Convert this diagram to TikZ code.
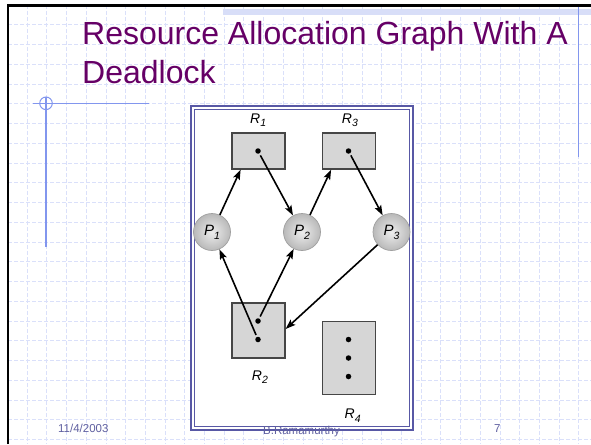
\documentclass[tikz,border=0pt]{standalone}
\usepackage{fontspec}
\setmainfont{Liberation Sans}
\usetikzlibrary{arrows.meta,calc}

\definecolor{titlepurple}{RGB}{102,0,102}
\definecolor{gridblue}{RGB}{218,224,250}
\definecolor{ruleblue}{RGB}{130,150,238}
\definecolor{framesteel}{RGB}{88,88,165}
\definecolor{footblue}{RGB}{96,96,160}
\definecolor{bandblue}{RGB}{216,222,248}
\definecolor{resfill}{RGB}{214,214,214}
\definecolor{resedge}{RGB}{70,70,70}

% resource / process label with a lowered index
\newcommand\sublbl[2]{\textit{#1}\raisebox{-0.5ex}{\fontsize{10.5}{10.5}\selectfont\textit{#2}}}

\begin{document}
\begin{tikzpicture}[x=1pt,y=-1pt,
  gridline/.style={gridblue, line width=0.8pt, dash pattern=on 4pt off 2pt},
  rule/.style={ruleblue, line width=1.2pt},
  resbox/.style={draw=resedge, fill=resfill, line width=1.2pt, minimum width=53pt, inner sep=0pt},
  proc/.style={circle, minimum size=37pt, inner sep=0pt, draw=gray!75, line width=0.7pt,
    inner color=gray!14, outer color=gray!55, font=\fontsize{15}{15}\selectfont},
  tok/.style={circle, fill=black, inner sep=0pt, minimum size=5.5pt},
  edge/.style={-{Stealth[length=10pt,width=7pt,inset=2pt]}, line width=1.6pt},
  rlabel/.style={anchor=base west, inner sep=0pt, font=\fontsize{14}{14}\selectfont},
  foot/.style={text=footblue, font=\fontsize{11.5}{11.5}\selectfont, inner sep=0pt}
]
\useasboundingbox (0,0) rectangle (591,444);
\fill[white] (0,0) rectangle (591,444);

% dashed background grid
\foreach \i in {0,...,29}
  \draw[gridline] ({7.4+19.7*\i},5) -- ({7.4+19.7*\i},444);
\foreach \j in {0,...,22}
  \draw[gridline] (8,{5+19.75*\j}) -- (591,{5+19.75*\j});

% top band and slide border
\fill[bandblue] (223,9) rectangle (591,15.5);
\draw[black, line width=2.3pt] (7.8,444) -- (7.8,5.5) -- (591,5.5);

% decorative rules
\draw[rule] (578.3,7) -- (578.3,157);
\draw[rule] (33,103.3) -- (149,103.3);
\draw[rule] (46,97) -- (46,247);
\draw[ruleblue, line width=1pt] (46,103.3) circle (6.3);

% title
\node[anchor=base west, inner sep=0pt, text=titlepurple, font=\fontsize{32}{32}\selectfont]
  (title1) at (82,44.3) {Resource Allocation Graph With A};
\node[anchor=base west, inner sep=0pt, text=titlepurple, font=\fontsize{32}{32}\selectfont]
  (title2) at (82,83.3) {Deadlock};

% picture frame
\draw[framesteel, line width=2.2pt, fill=white] (191,106) rectangle (413,430);
\draw[framesteel, line width=1.1pt] (194.5,109.5) rectangle (409.5,426.5);

% resources
\node[resbox, minimum height=36pt] (R1) at (258.5,151) {};
\node[resbox, minimum height=36pt] (R3) at (349,151) {};
\node[resbox, minimum height=55pt] (R2) at (258.5,330.5) {};
\node[resbox, minimum height=73pt] (R4) at (349,358) {};

% resource instances
\node[tok] (d1) at (258,151) {};
\node[tok] (d3) at (348.5,151) {};
\node[tok] (d2a) at (258,321) {};
\node[tok] (d2b) at (258,339.5) {};
\node[tok] (d4a) at (348.5,339.5) {};
\node[tok] (d4b) at (348.5,358) {};
\node[tok] (d4c) at (348.5,376.5) {};

% processes
\node[proc] (P1) at (212,232) {\sublbl{P}{1}};
\node[proc] (P2) at (302,232) {\sublbl{P}{2}};
\node[proc] (P3) at (391.5,232) {\sublbl{P}{3}};

% resource labels
\node[rlabel] (lR1) at (250,123.3) {\sublbl{R}{1}};
\node[rlabel] (lR3) at (341.7,123.3) {\sublbl{R}{3}};
\node[rlabel] (lR2) at (251.7,380) {\sublbl{R}{2}};
\node[rlabel] (lR4) at (344.5,418.5) {\sublbl{R}{4}};

% request and assignment edges
\coordinate (r1in) at ($(R1.south west)!0.17!(R1.south east)$);
\coordinate (r3in) at ($(R3.south west)!0.17!(R3.south east)$);
\coordinate (r2in) at ($(R2.east)+(0,-1.5)$);
\draw[edge] (P1) -- (r1in);
\draw[edge, shorten <=2pt] (d1) -- (P2);
\draw[edge] (P2) -- (r3in);
\draw[edge, shorten <=2pt] (d3) -- (P3);
\draw[edge, shorten <=2pt] (d2b) -- (P1);
\draw[edge, shorten <=2pt] (d2a) -- (P2);
\draw[edge] (P3) -- (r2in);

% footer
\node[foot, anchor=base west] (date) at (58,432) {11/4/2003};
\node[foot, anchor=base] (author) at (301.5,434) {B.Ramamurthy};
\node[foot, anchor=base west] (page) at (494,432) {7};
\end{tikzpicture}
\end{document}
